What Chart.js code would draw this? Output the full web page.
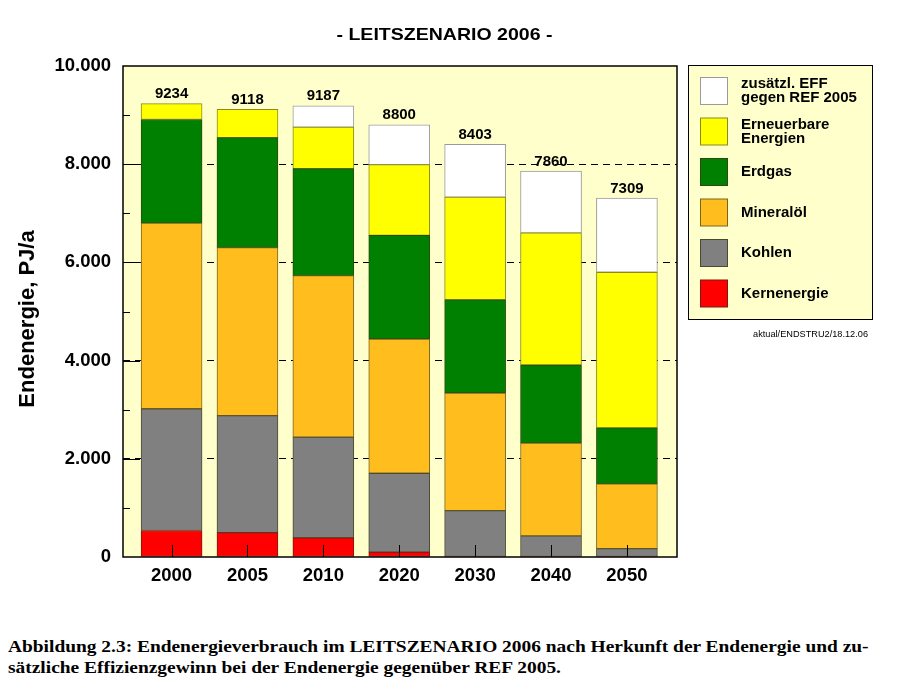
<!DOCTYPE html>
<html lang="de">
<head>
<meta charset="utf-8">
<title>Leitszenario 2006 - Endenergie</title>
<script src="https://cdn.jsdelivr.net/npm/chart.js@4.4.1/dist/chart.umd.min.js"></script>
<style>
  html, body { margin: 0; padding: 0; background: #fff; }
  #wrap { position: relative; width: 908px; height: 678px; overflow: hidden; }
  #chart { position: absolute; left: 0; top: 0; }
  .caption { position: absolute; left: 8px; font: bold 17px "Liberation Serif", "Times New Roman", serif; line-height: 20px; white-space: nowrap; transform-origin: 0 50%; color: #000; }
</style>
</head>
<body>
<div id="wrap">
  <canvas id="chart" width="908" height="600"></canvas>
  <div class="caption" id="cap1" style="top:637px">Abbildung 2.3: Endenergieverbrauch im LEITSZENARIO 2006 nach Herkunft der Endenergie und zu-</div>
  <div class="caption" id="cap2" style="top:658px">sätzliche Effizienzgewinn bei der Endenergie gegenüber REF 2005.</div>
</div>
<script>
// ── data (PJ/a) ────────────────────────────────────────────────
const years       = ['2000', '2005', '2010', '2020', '2030', '2040', '2050'];
const kernenergie = [540, 496, 388, 100, 0, 0, 0];
const kohlen      = [2480, 2384, 2052, 1606, 945, 430, 170];
const mineraloel  = [3780, 3420, 3290, 2734, 2395, 1890, 1320];
const erdgas      = [2110, 2240, 2180, 2110, 1900, 1590, 1140];
const erneuerbare = [324, 578, 845, 1440, 2090, 2690, 3170];
const effizienz   = [0, 0, 432, 810, 1073, 1260, 1509];
const totals      = [9234, 9118, 9187, 8800, 8403, 7860, 7309];

const FONT = '"Liberation Sans", Arial, Helvetica, sans-serif';
const PLOT_BG = '#FFFFCC';
Chart.defaults.font.family = FONT;
Chart.defaults.color = '#000';

const pts = arr => arr.map((v, i) => ({ x: i, y: v }));
const thousands = v => String(v).replace(/\B(?=(\d{3})+(?!\d))/g, '.');

function series(label, data, fill, edge) {
    return {
        label, data: pts(data), backgroundColor: fill, borderColor: edge,
        borderWidth: c => (c.raw && c.raw.y > 0 ? 1 : 0),
        borderSkipped: false, barThickness: 61
    };
}

// text stretched to a given width (the original print is a bit wide)
function wideText(ctx, txt, cx, cy, width) {
    const w = ctx.measureText(txt).width;
    ctx.save();
    ctx.translate(cx, cy);
    ctx.scale(width / w, 1);
    ctx.fillText(txt, 0, 0);
    ctx.restore();
}

// background, frame, inner ticks, totals, titles, legend box
const decor = {
    id: 'decor',
    beforeDraw(chart) {
        const { ctx, chartArea: a } = chart;
        ctx.save();
        ctx.fillStyle = PLOT_BG;
        ctx.fillRect(a.left, a.top, a.right - a.left, a.bottom - a.top);
        ctx.restore();
    },
    afterDatasetsDraw(chart) {
        const { ctx } = chart;
        ctx.save();
        ctx.font = 'bold 15px ' + FONT;
        ctx.fillStyle = '#000';
        ctx.textAlign = 'center';
        ctx.textBaseline = 'alphabetic';
        totals.forEach((t, i) => {
            let top = null, x = null;
            chart.data.datasets.forEach((ds, d) => {
                const el = chart.getDatasetMeta(d).data[i];
                if (ds.data[i].y > 0) { top = el.y; x = el.x; }
            });
            ctx.fillText(String(t), x, top - 5.5);
        });
        ctx.restore();
    },
    afterDraw(chart) {
        const { ctx, chartArea: a, scales } = chart;
        ctx.save();
        ctx.strokeStyle = '#000';
        ctx.lineWidth = 1;
        // inward ticks on y
        for (let v = 1000; v < 10000; v += 1000) {
            const y = Math.round(scales.y.getPixelForValue(v)) + 0.5;
            const len = v % 2000 === 0 ? 17 : 7;
            ctx.beginPath(); ctx.moveTo(a.left, y); ctx.lineTo(a.left + len, y); ctx.stroke();
        }
        // inward ticks on x
        years.forEach((_, i) => {
            const x = Math.round(scales.x.getPixelForValue(i)) + 0.5;
            ctx.beginPath(); ctx.moveTo(x, a.bottom); ctx.lineTo(x, a.bottom - 12); ctx.stroke();
        });
        // frame
        ctx.lineWidth = 1.5;
        ctx.strokeRect(a.left, a.top, a.right - a.left, a.bottom - a.top);

        // title
        ctx.fillStyle = '#000';
        ctx.font = 'bold 17px ' + FONT;
        ctx.textAlign = 'center';
        ctx.textBaseline = 'middle';
        wideText(ctx, '- LEITSZENARIO 2006 -', 444.5, 35, 216);

        // y axis title
        ctx.save();
        ctx.translate(28, 319);
        ctx.rotate(-Math.PI / 2);
        ctx.font = 'bold 22px ' + FONT;
        ctx.fillText('Endenergie, PJ/a', 0, 0);
        ctx.restore();

        // legend
        ctx.fillStyle = PLOT_BG;
        ctx.fillRect(688.5, 65.5, 184, 254);
        ctx.lineWidth = 1;
        ctx.strokeStyle = '#000';
        ctx.strokeRect(688.5, 65.5, 184, 254);
        const list = chart.data.datasets.slice().reverse();
        ctx.font = 'bold 15px ' + FONT;
        ctx.textAlign = 'left';
        list.forEach((ds, k) => {
            const top = 77 + k * 40.5;
            ctx.fillStyle = ds.backgroundColor;
            ctx.fillRect(700.5, top + 0.5, 27, 27);
            ctx.strokeStyle = ds.borderColor;
            ctx.strokeRect(700.5, top + 0.5, 27, 27);
            const lines = ds.label.split('\n');
            ctx.fillStyle = '#000';
            const mid = top + 14;
            lines.forEach((ln, j) => {
                ctx.fillText(ln, 741, mid + (j - (lines.length - 1) / 2) * 14);
            });
        });

        // source note
        ctx.font = '9.2px ' + FONT;
        ctx.textAlign = 'right';
        ctx.fillText('aktual/ENDSTRU2/18.12.06', 868, 334);
        ctx.restore();
    }
};

new Chart(document.getElementById('chart'), {
    type: 'bar',
    data: {
        datasets: [
            series('Kernenergie', kernenergie, '#FF0000', '#7a1a10'),
            series('Kohlen', kohlen, '#808080', '#4a4a30'),
            series('Mineralöl', mineraloel, '#FFBE1E', '#7a6420'),
            series('Erdgas', erdgas, '#008000', '#2a4a10'),
            series('Erneuerbare\nEnergien', erneuerbare, '#FFFF00', '#8a8a20'),
            series('zusätzl. EFF\ngegen REF 2005', effizienz, '#FFFFFF', '#9a9a9a')
        ]
    },
    options: {
        responsive: false, animation: false,
        layout: { padding: { top: 66, right: 231, left: 0, bottom: 0 } },
        plugins: { legend: { display: false }, tooltip: { enabled: false }, title: { display: false } },
        scales: {
            x: {
                type: 'linear', stacked: true, offset: false, min: -0.64, max: 6.66,
                grid: { display: false, drawTicks: false }, border: { display: false },
                ticks: {
                    stepSize: 1, includeBounds: false, autoSkip: false, maxRotation: 0, padding: 8,
                    font: { size: 18.5, weight: 'bold' },
                    callback: v => (Number.isInteger(v) && years[v]) ? years[v] : ''
                },
                afterFit: s => { s.height = 43; }
            },
            y: {
                stacked: true, min: 0, max: 10000,
                ticks: {
                    stepSize: 1000, padding: 12, autoSkip: false,
                    font: { size: 18.5, weight: 'bold' },
                    callback: v => (v % 2000 === 0 ? thousands(v) : '')
                },
                grid: {
                    drawTicks: false, lineWidth: 1,
                    color: c => (c.tick && c.tick.value > 0 && c.tick.value < 10000 && c.tick.value % 2000 === 0) ? '#000' : 'rgba(0,0,0,0)'
                },
                border: { display: false, dash: [7, 5] },
                afterFit: s => { s.width = 123; }
            }
        }
    },
    plugins: [decor]
});

// squeeze caption to the printed width
const cap1 = document.getElementById('cap1');
const k = 860 / cap1.offsetWidth;
document.querySelectorAll('.caption').forEach(el => { el.style.transform = 'scaleX(' + k + ')'; });
</script>
</body>
</html>
